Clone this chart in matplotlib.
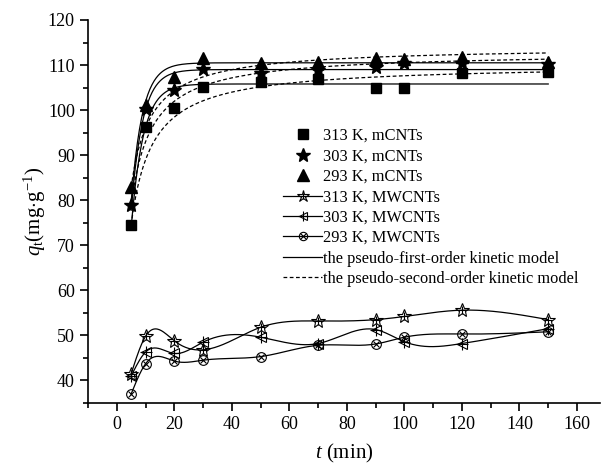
import numpy as np
import matplotlib
matplotlib.use('Agg')
import matplotlib.pyplot as plt
from matplotlib.lines import Line2D
from matplotlib.ticker import MultipleLocator

plt.rcParams['font.family'] = 'Liberation Serif'
plt.rcParams['mathtext.fontset'] = 'custom'
plt.rcParams['mathtext.rm'] = 'Liberation Serif'
plt.rcParams['mathtext.it'] = 'Liberation Serif:italic'

# contact time (min)
t = np.array([5, 10, 20, 30, 50, 70, 90, 100, 120, 150])

# mCNTs adsorption capacity (mg/g)
q_m313 = [74.6, 96.2, 100.4, 105.2, 106.2, 106.8, 104.8, 105.0, 108.3, 108.5]
q_m303 = [79.0, 100.2, 104.5, 109.1, 108.2, 108.9, 109.6, 110.5, 110.5, 110.2]
q_m293 = [82.9, 101.1, 107.4, 111.6, 110.4, 110.7, 111.5, 111.3, 111.7, 110.7]

# MWCNTs adsorption capacity (mg/g)
q_w313 = [41.5, 49.8, 48.8, 46.8, 51.8, 53.2, 53.5, 54.2, 55.6, 53.5]
q_w303 = [41.0, 46.3, 46.0, 48.5, 49.6, 48.2, 51.3, 48.6, 48.2, 51.5]
q_w293 = [37.0, 43.7, 44.3, 44.5, 45.3, 47.8, 48.1, 49.6, 50.3, 50.8]

# kinetic model parameters for mCNTs: (qe, k)
pfo = {'313': (105.8, 0.24), '303': (109.0, 0.25), '293': (110.5, 0.255)}
pso = {'313': (110.2, 0.00380), '303': (112.9, 0.00413), '293': (114.1, 0.00466)}


def spline(x, y, n=400):
    """ natural cubic spline through the points, for the connecting line """
    x = np.asarray(x, float)
    y = np.asarray(y, float)
    h = np.diff(x)
    m = len(x)
    A = np.zeros((m, m))
    r = np.zeros(m)
    A[0, 0] = A[-1, -1] = 1
    for i in range(1, m - 1):
        A[i, i - 1] = h[i - 1]
        A[i, i] = 2 * (h[i - 1] + h[i])
        A[i, i + 1] = h[i]
        r[i] = 3 * ((y[i + 1] - y[i]) / h[i] - (y[i] - y[i - 1]) / h[i - 1])
    c = np.linalg.solve(A, r)
    xs = np.linspace(x[0], x[-1], n)
    idx = np.clip(np.searchsorted(x, xs) - 1, 0, m - 2)
    dx = xs - x[idx]
    b = (y[1:] - y[:-1]) / h - h * (2 * c[:-1] + c[1:]) / 3
    d = (c[1:] - c[:-1]) / (3 * h)
    ys = y[idx] + b[idx] * dx + c[idx] * dx ** 2 + d[idx] * dx ** 3
    return xs, ys


fig = plt.figure(figsize=(6.04, 4.67), dpi=100)
ax = fig.add_axes([88 / 604, 1 - 403 / 467, (600 - 88) / 604, (403 - 20) / 467])

tt = np.linspace(5, 150, 400)
lw = 0.9
for key in ['313', '303', '293']:
    qe, k1 = pfo[key]
    ax.plot(tt, qe * (1 - np.exp(-k1 * tt)), color='black', lw=lw)
    qe, k2 = pso[key]
    ax.plot(tt, qe ** 2 * k2 * tt / (1 + qe * k2 * tt), color='black', lw=lw,
            linestyle=(0, (3, 2)))

ax.plot(t, q_m313, 's', color='black', ms=6.5, zorder=5)
ax.plot(t, q_m303, '*', color='black', ms=10, zorder=5)
ax.plot(t, q_m293, '^', color='black', ms=8, zorder=5)

for qq in [q_w313, q_w303, q_w293]:
    xs, ys = spline(t, qq)
    ax.plot(xs, ys, color='black', lw=lw)

open_kw = dict(color='black', mfc='none', mew=0.8, linestyle='none', zorder=5)
ax.plot(t, q_w313, '*', ms=10, **open_kw)
ax.plot(t, q_w313, '+', ms=6, **open_kw)
ax.plot(t, q_w303, '<', ms=7, **open_kw)
ax.plot(t, q_w303, '+', ms=8, **open_kw)
ax.plot(t, q_w293, 'o', ms=7, **open_kw)
ax.plot(t, q_w293, 'x', ms=5, **open_kw)

ax.set_xlim(-10, 168)
ax.set_ylim(35, 120)
ax.xaxis.set_major_locator(MultipleLocator(20))
ax.xaxis.set_minor_locator(MultipleLocator(10))
ax.yaxis.set_major_locator(MultipleLocator(10))
ax.yaxis.set_minor_locator(MultipleLocator(5))
ax.set_xticks(np.arange(0, 161, 20))
ax.spines['top'].set_visible(False)
ax.spines['right'].set_visible(False)
for sp in ['left', 'bottom']:
    ax.spines[sp].set_linewidth(1.2)
ax.tick_params(which='major', direction='out', length=6, width=1.2, labelsize=13)
ax.tick_params(which='minor', direction='out', length=3.5, width=1.2)

ax.set_xlabel(r'$t$ (min)', fontsize=15, labelpad=6)
ax.set_ylabel(r'$q_{\mathrm{t}}$(mg$\cdot$g$^{-1}$)', fontsize=15, labelpad=0)

handles = [
    Line2D([], [], marker='s', color='black', ms=6.5, linestyle='none'),
    Line2D([], [], marker='*', color='black', ms=10, linestyle='none'),
    Line2D([], [], marker='^', color='black', ms=8, linestyle='none'),
    (Line2D([], [], color='black', lw=lw),
     Line2D([], [], marker='*', ms=9, **open_kw),
     Line2D([], [], marker='+', ms=5, **open_kw)),
    (Line2D([], [], color='black', lw=lw),
     Line2D([], [], marker='<', ms=6, **open_kw),
     Line2D([], [], marker='+', ms=7, **open_kw)),
    (Line2D([], [], color='black', lw=lw),
     Line2D([], [], marker='o', ms=6, **open_kw),
     Line2D([], [], marker='x', ms=4, **open_kw)),
    Line2D([], [], color='black', lw=lw),
    Line2D([], [], color='black', lw=lw, linestyle=(0, (3, 2))),
]
labels = ['313 K, mCNTs', '303 K, mCNTs', '293 K, mCNTs',
          '313 K, MWCNTs', '303 K, MWCNTs', '293 K, MWCNTs',
          'the pseudo-first-order kinetic model',
          'the pseudo-second-order kinetic model']
fig.legend(handles, labels, loc='upper left',
           bbox_to_anchor=(283 / 604, 1 - 128 / 467), frameon=False,
           fontsize=11.8, handlelength=2.4, handletextpad=0.05,
           labelspacing=0.27, borderpad=0, borderaxespad=0)

fig.savefig('out.png', dpi=100)
